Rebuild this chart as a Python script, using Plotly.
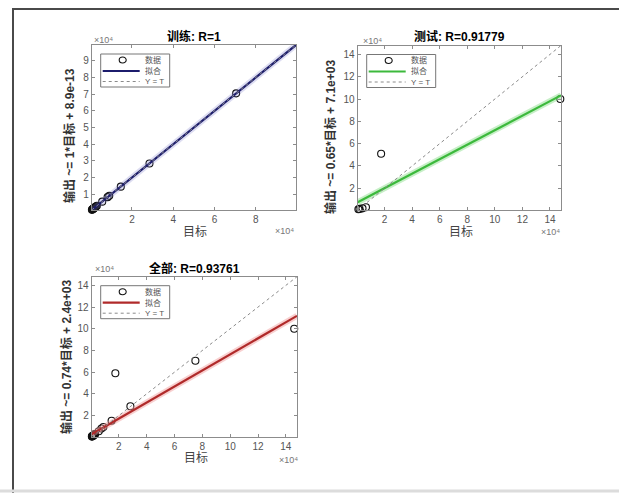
import plotly.graph_objects as go

# ---------------- data ----------------
train_target = [70500, 28500, 14600, 9000, 8200, 5600, 3000, 2600, 2200, 1900, 1600, 1400, 1200, 1000, 800, 600]
train_output = [70500, 28400, 14500, 9000, 8200, 5500, 3000, 2600, 2200, 1900, 1600, 1400, 1200, 1000, 800, 600]

test_target = [147500, 17500, 6500, 4000, 1800, 1000]
test_output = [100000, 51000, 3000, 2000, 1500, 1200]

all_target = [146000, 75000, 17500, 28300, 14800, 8900, 7500, 5600, 3000, 2600, 2200, 1900, 1600, 1400, 1200, 1000, 800, 600]
all_output = [100000, 70500, 59000, 28600, 15200, 9500, 8000, 5500, 3000, 2600, 2200, 1900, 1600, 1400, 1200, 1000, 800, 600]

fit_slope = [1.0, 0.65, 0.74]
fit_intercept = [8.9e-13, 7.1e3, 2.4e3]
axis_limits = [[500, 99500], [500, 148000], [500, 148000]]

titles = ["训练: R=1", "测试: R=0.91779", "全部: R=0.93761"]
ylabels = ["输出 ~= 1*目标 + 8.9e-13", "输出 ~= 0.65*目标 + 7.1e+03", "输出 ~= 0.74*目标 + 2.4e+03"]
xlabel = "目标"
legend_labels = ["数据", "拟合", "Y = T"]
exponent_label = "×10⁴"

train_xticks = [20000, 40000, 60000, 80000]
train_xticktext = ["2", "4", "6", "8"]
train_yticks = [10000, 20000, 30000, 40000, 50000, 60000, 70000, 80000, 90000]
train_yticktext = ["1", "2", "3", "4", "5", "6", "7", "8", "9"]
wide_ticks = [20000, 40000, 60000, 80000, 100000, 120000, 140000]
wide_ticktext = ["2", "4", "6", "8", "10", "12", "14"]

# ---------------- layout helpers ----------------
W, H = 619, 493
FONT = "Liberation Sans, Arial, Noto Sans CJK SC"


def px(x):
    return x / W


def py(y):
    return 1 - y / H


# axes boxes in pixels: left, top, right, bottom
boxes = [(91.7, 45, 296, 210), (357.7, 45.5, 561, 210), (91.7, 276.7, 297, 436.7)]
fit_colors = ["#1c1c6c", "#3cb93c", "#b02a2a"]
halo_colors = ["rgba(120,120,200,0.25)", "rgba(130,220,130,0.45)", "rgba(240,150,150,0.45)"]

datasets = [(train_target, train_output), (test_target, test_output), (all_target, all_output)]

fig = go.Figure()

for i, (t, o) in enumerate(datasets):
    xa = "x" if i == 0 else f"x{i+1}"
    ya = "y" if i == 0 else f"y{i+1}"
    lo, hi = axis_limits[i]
    fx = [lo, hi]
    fy = [fit_slope[i] * v + fit_intercept[i] for v in fx]
    fig.add_trace(go.Scatter(x=t, y=o, mode="markers", xaxis=xa, yaxis=ya, cliponaxis=False,
                             marker=dict(symbol="circle-open", size=7, color="#111111",
                                         line=dict(width=1.1)),
                             showlegend=False))
    fig.add_trace(go.Scatter(x=fx, y=fy, mode="lines", xaxis=xa, yaxis=ya,
                             line=dict(color=halo_colors[i], width=6), showlegend=False))
    fig.add_trace(go.Scatter(x=fx, y=fy, mode="lines", xaxis=xa, yaxis=ya,
                             line=dict(color=fit_colors[i], width=2.2), showlegend=False))
    fig.add_trace(go.Scatter(x=fx, y=fx, mode="lines", xaxis=xa, yaxis=ya,
                             line=dict(color="#8a8a8a", width=1, dash="dot"), showlegend=False))

axis_common = dict(showgrid=False, zeroline=False, showline=True, linecolor="#8c8c8c",
                   linewidth=1, mirror="ticks", ticks="inside", ticklen=3, tickcolor="#8c8c8c",
                   tickfont=dict(family=FONT, size=10, color="#555555"))

layout = dict(width=W, height=H, margin=dict(l=0, r=0, t=0, b=0, autoexpand=False),
              paper_bgcolor="white", plot_bgcolor="white", showlegend=False)

tick_sets = [((train_xticks, train_xticktext), (train_yticks, train_yticktext)),
             ((wide_ticks, wide_ticktext), (wide_ticks, wide_ticktext)),
             ((wide_ticks, wide_ticktext), (wide_ticks, wide_ticktext))]

for i, (l, tp, r, b) in enumerate(boxes):
    xk = "xaxis" if i == 0 else f"xaxis{i+1}"
    yk = "yaxis" if i == 0 else f"yaxis{i+1}"
    (xv, xt), (yv, yt) = tick_sets[i]
    layout[xk] = dict(axis_common, domain=[px(l), px(r)], range=axis_limits[i],
                      tickvals=xv, ticktext=xt, anchor="y" if i == 0 else f"y{i+1}")
    layout[yk] = dict(axis_common, domain=[py(b), py(tp)], range=axis_limits[i],
                      tickvals=yv, ticktext=yt, anchor="x" if i == 0 else f"x{i+1}")

fig.update_layout(**layout)

annotations = []
shapes = []

title_pos = [(194, 36), (460, 36), (194, 268)]
xlab_pos = [(195, 232), (461, 232), (196, 458)]
ylab_pos = [(69, 136), (331, 137), (66, 357)]
exp_top = [(103, 40), (372, 40.5), (104, 269)]
exp_bot = [(284, 231), (550, 231.5), (288, 460)]


def ann(x, y, text, size, color, bold=False, angle=0, xanchor="center"):
    if bold:
        text = f"<b>{text}</b>"
    annotations.append(dict(x=px(x), y=py(y), xref="paper", yref="paper", text=text,
                            showarrow=False, textangle=angle, xanchor=xanchor, yanchor="middle",
                            font=dict(family=FONT, size=size, color=color)))


for i in range(3):
    ann(*title_pos[i], titles[i], 12, "#000000", bold=True)
    ann(*xlab_pos[i], xlabel, 12, "#444444")
    ann(*ylab_pos[i], ylabels[i], 12, "#333333", bold=True, angle=-90)
    ann(*exp_top[i], exponent_label, 9, "#777777")
    ann(*exp_bot[i], exponent_label, 9, "#777777")

    # legend box
    l, tp, r, b = boxes[i]
    lx0, ly0 = l + 9, tp + 9
    lx1, ly1 = lx0 + 69, ly0 + 33
    shapes.append(dict(type="rect", xref="paper", yref="paper", x0=px(lx0), x1=px(lx1),
                       y0=py(ly1), y1=py(ly0), line=dict(color="#777777", width=1),
                       fillcolor="white", layer="above"))
    rows = [ly0 + 6, ly0 + 17, ly0 + 27.5]
    cx = lx0 + 22
    shapes.append(dict(type="circle", xref="paper", yref="paper", x0=px(cx - 3.5), x1=px(cx + 3.5),
                       y0=py(rows[0] + 3), y1=py(rows[0] - 3), line=dict(color="#111111", width=1.1),
                       layer="above"))
    shapes.append(dict(type="line", xref="paper", yref="paper", x0=px(lx0 + 2), x1=px(lx0 + 39),
                       y0=py(rows[1]), y1=py(rows[1]), line=dict(color=fit_colors[i], width=2.2),
                       layer="above"))
    shapes.append(dict(type="line", xref="paper", yref="paper", x0=px(lx0 + 2), x1=px(lx0 + 39),
                       y0=py(rows[2]), y1=py(rows[2]), line=dict(color="#8a8a8a", width=1, dash="dot"),
                       layer="above"))
    for k, lab in enumerate(legend_labels):
        ann(lx0 + 42, rows[k], lab, 8, "#555555", xanchor="left")

# outer frame
shapes.append(dict(type="line", xref="paper", yref="paper", x0=px(13), x1=px(13), y0=py(493), y1=py(9),
                   line=dict(color="#4a4a4a", width=2)))
shapes.append(dict(type="line", xref="paper", yref="paper", x0=px(12), x1=px(619), y0=py(9), y1=py(9),
                   line=dict(color="#4a4a4a", width=2)))
shapes.append(dict(type="line", xref="paper", yref="paper", x0=px(0), x1=px(619), y0=py(491), y1=py(491),
                   line=dict(color="#dcdcdc", width=3)))

fig.update_layout(annotations=annotations, shapes=shapes)
fig.write_html("out.html")
